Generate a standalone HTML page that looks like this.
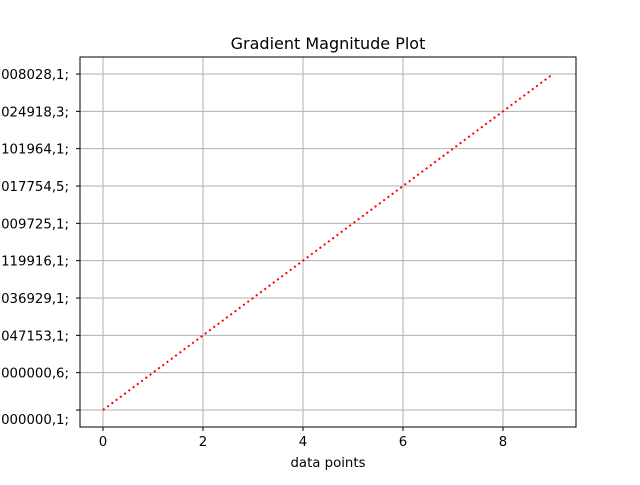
<!DOCTYPE html>
<html><head><meta charset="utf-8"><style>
body{margin:0;background:#fff;width:640px;height:480px;overflow:hidden}
text{font-family:"DejaVu Sans","Liberation Sans",sans-serif;fill:#000}
</style></head><body>
<svg id="chart" width="640" height="480" viewBox="0 0 640 480" xmlns="http://www.w3.org/2000/svg">
<rect x="0" y="0" width="640" height="480" fill="#fff"/>
<g id="grid"></g>
<g id="series"></g>
<rect x="80" y="57" width="496" height="370" fill="none" stroke="#000" stroke-width="1"/>
<g id="axes"></g>
<text x="328" y="49" font-size="16" text-anchor="middle">Gradient Magnitude Plot</text>
<text x="328" y="467" font-size="13.3" text-anchor="middle">data points</text>
</svg>
<script>
const categories = ["000000,1;","000000,6;","047153,1;","036929,1;","119916,1;","009725,1;","017754,5;","101964,1;","024918,3;","008028,1;"];
const xValues = [0,1,2,3,4,5,6,7,8,9];
const yValues = [0,1,2,3,4,5,6,7,8,9];
const xTicks = [0,2,4,6,8];

const NS="http://www.w3.org/2000/svg";
const xs = v => 103 + v*50;
const ys = i => 410 - i*(336/9);
function mk(tag, attrs, parent){const e=document.createElementNS(NS,tag);for(const k in attrs)e.setAttribute(k,attrs[k]);parent.appendChild(e);return e;}
const grid=document.getElementById('grid'), axes=document.getElementById('axes'), series=document.getElementById('series');

xTicks.forEach(t=>{
  const g=mk('line',{x1:xs(t),x2:xs(t),y1:57,y2:427,stroke:'#b0b0b0','stroke-width':1},grid);
  
  
  const tk=mk('line',{x1:xs(t),x2:xs(t),y1:427,y2:431,stroke:'#000'},axes);
  
  
  const lb=mk('text',{x:xs(t),y:446,'font-size':13.3,'text-anchor':'middle'},axes);
  lb.textContent=t;
  
  
});
categories.forEach((c,i)=>{
  const y=ys(i);
  const g=mk('line',{x1:80,x2:576,y1:y,y2:y,stroke:'#b0b0b0','stroke-width':1},grid);
  
  
  const tk=mk('line',{x1:76,x2:80,y1:y,y2:y,stroke:'#000'},axes);
  
  
  const lb=mk('text',{x:69,y:(i===0?y+14:y+5),'font-size':13.3,'text-anchor':'end'},axes);
  lb.textContent=c;
  
  
});
const pts=xValues.map((x,i)=>xs(x)+','+ys(yValues[i])).join(' ');
const line=mk('polyline',{points:pts,fill:'none',stroke:'#ff0000','stroke-width':2,'stroke-dasharray':'2,3.3'},series);


</script>
</body></html>
